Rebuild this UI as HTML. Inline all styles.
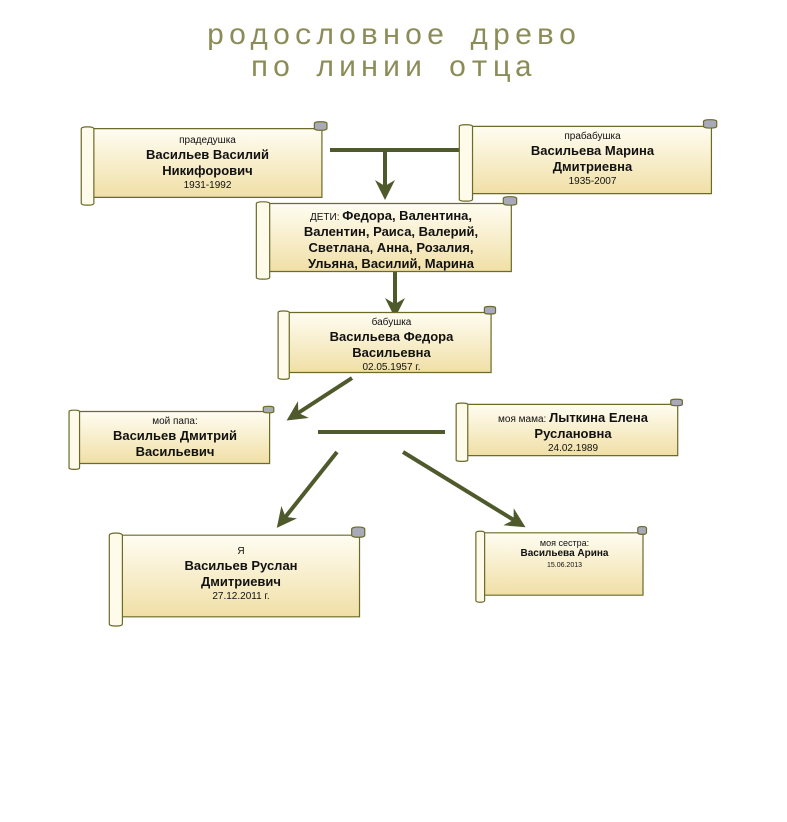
<!DOCTYPE html>
<html><head><meta charset="utf-8"><style>
body{margin:0;width:787px;height:822px;background:#fff;position:relative;overflow:hidden;font-family:"Liberation Sans",Arial,sans-serif}
.t{position:absolute;left:0;width:787px;text-align:center;color:#8c8c58;font-family:"Liberation Mono",monospace;font-size:30px;letter-spacing:4px}
.box{position:absolute;text-align:center;color:#111;font-size:10px;line-height:13px}
.box b{font-size:13px;line-height:15px}
</style></head><body>
<div class="t" style="top:20px">родословное древо</div>
<div class="t" style="top:52px">по линии отца</div>
<svg width="787" height="822" style="position:absolute;left:0;top:0">
<defs>
<linearGradient id="g" x1="0" y1="0" x2="0" y2="1"><stop offset="0" stop-color="#fffdf2"/><stop offset="1" stop-color="#f0dfa6"/></linearGradient>
<marker id="a" viewBox="0 0 10 10" refX="5" refY="5" markerWidth="5" markerHeight="5" orient="auto"><path d="M0,0L10,5L0,10L3,5z" fill="#4e5a2c"/></marker>
<symbol id="s" viewBox="0 0 100 100" preserveAspectRatio="none">
<rect x="5" y="10" width="91" height="80" fill="url(#g)" stroke="#6b6a28" stroke-width="1.2" vector-effect="non-scaling-stroke"/>
<rect x="0.5" y="8" width="5" height="91" rx="2" fill="#fffbea" stroke="#6b6a28" stroke-width="1.2" vector-effect="non-scaling-stroke"/>
<rect x="93" y="2" width="5" height="10" rx="2" fill="#a8aab8" stroke="#6b6a28" stroke-width="1.2" vector-effect="non-scaling-stroke"/>
</symbol>
</defs>
<g stroke="#4e5a2c" stroke-width="4" fill="none">
<line x1="330" y1="150" x2="460" y2="150"/>
<line x1="385" y1="150" x2="385" y2="190" marker-end="url(#a)"/>
<line x1="395" y1="272" x2="395" y2="308" marker-end="url(#a)"/>
<line x1="352" y1="378" x2="295" y2="415" marker-end="url(#a)"/>
<line x1="318" y1="432" x2="445" y2="432"/>
<line x1="337" y1="452" x2="283" y2="520" marker-end="url(#a)"/>
<line x1="403" y1="452" x2="517" y2="522" marker-end="url(#a)"/>
</g>
<use href="#s" x="80" y="120" width="252" height="86"/>
<use href="#s" x="458" y="118" width="264" height="84"/>
<use href="#s" x="255" y="195" width="267" height="85"/>
<use href="#s" x="277" y="305" width="223" height="75"/>
<use href="#s" x="68" y="405" width="210" height="65"/>
<use href="#s" x="455" y="398" width="232" height="64"/>
<use href="#s" x="108" y="525" width="262" height="102"/>
<use href="#s" x="475" y="525" width="175" height="78"/>
</svg>
<div class="box" style="left:85px;top:134px;width:245px">прадедушка<br><b>Васильев Василий<br>Никифорович</b><br>1931-1992</div>
<div class="box" style="left:465px;top:130px;width:255px">прабабушка<br><b>Васильева Марина<br>Дмитриевна</b><br>1935-2007</div>
<div class="box" style="left:262px;top:208px;width:258px"><span>ДЕТИ: </span><b>Федора, Валентина,<br>Валентин, Раиса, Валерий,<br>Светлана, Анна, Розалия,<br>Ульяна, Василий, Марина</b></div>
<div class="box" style="left:284px;top:316px;width:215px">бабушка<br><b>Васильева Федора<br>Васильевна</b><br>02.05.1957 г.</div>
<div class="box" style="left:75px;top:415px;width:200px">мой папа:<br><b>Васильев Дмитрий<br>Васильевич</b></div>
<div class="box" style="left:462px;top:410px;width:222px">моя мама: <b>Лыткина Елена<br>Руслановна</b><br>24.02.1989</div>
<div class="box" style="left:115px;top:545px;width:252px">Я<br><b>Васильев Руслан<br>Дмитриевич</b><br>27.12.2011 г.</div>
<div class="box" style="left:482px;top:538px;width:165px;font-size:9px;line-height:10px">моя сестра:<br><b style="font-size:10px;line-height:11px">Васильева Арина</b><br><span style="font-size:7px">15.06.2013</span></div>
</body></html>
